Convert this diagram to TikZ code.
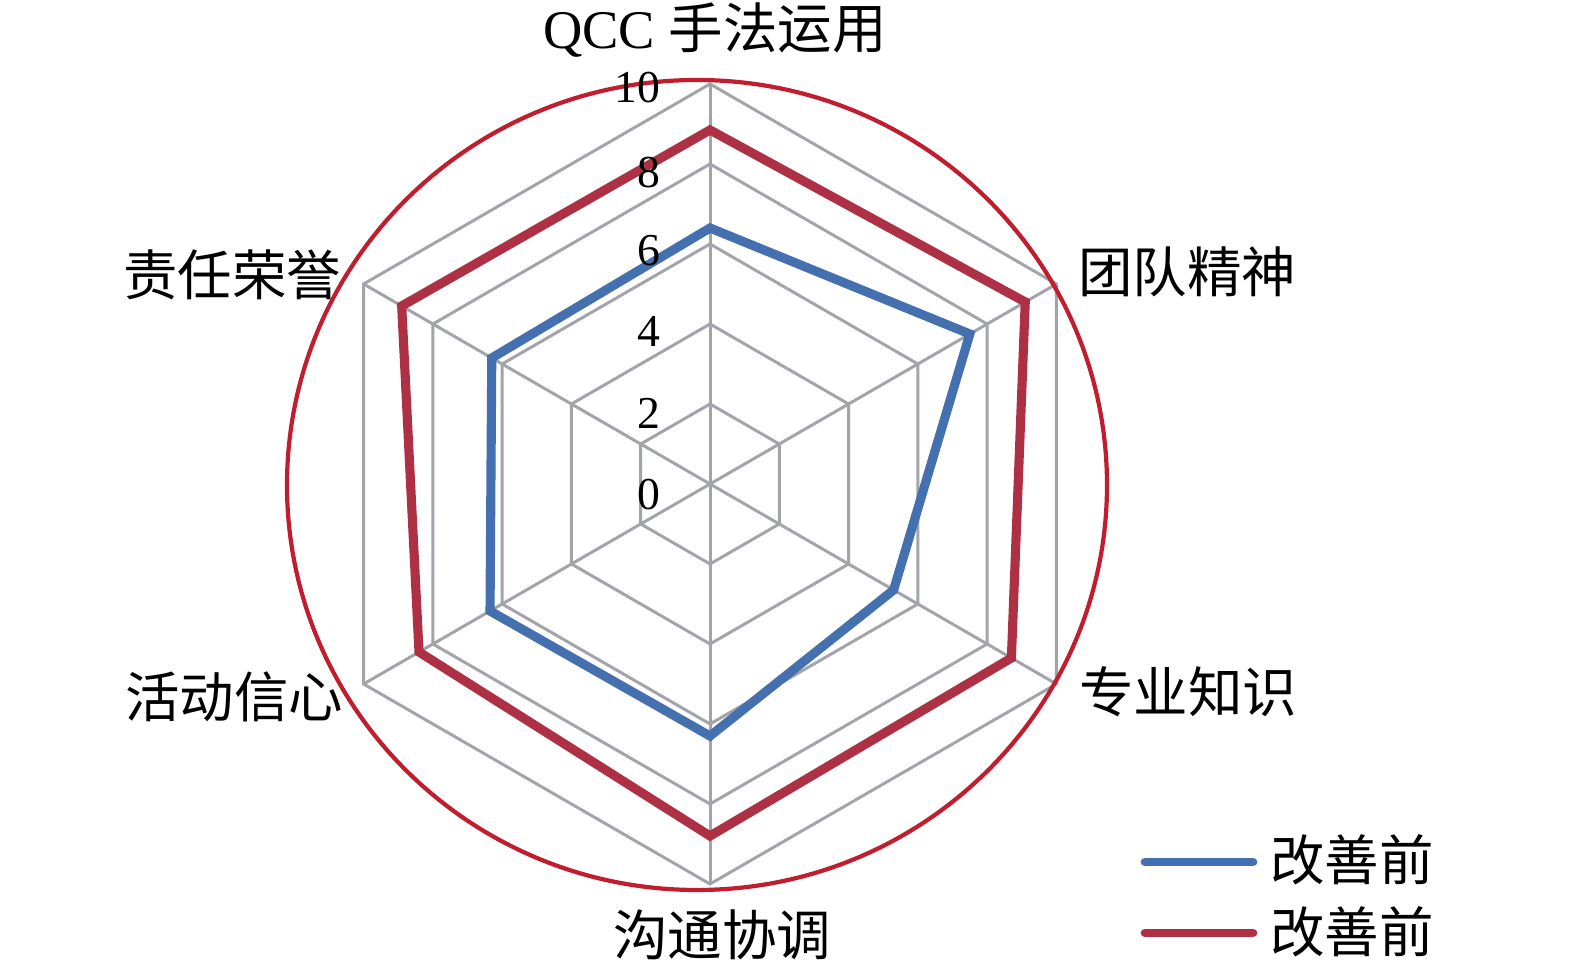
\documentclass[tikz,border=0pt]{standalone}
\usepackage{fontspec}
\setmainfont{Liberation Serif}
\newfontfamily\cjk{Noto Sans CJK SC}
\definecolor{gridgray}{HTML}{A3A4AA}
\definecolor{serblue}{HTML}{4570B0}
\definecolor{serred}{HTML}{AE3045}
\definecolor{circred}{HTML}{C01E2E}
\begin{document}
\begin{tikzpicture}[x=0.02cm,y=0.02cm,
  gridline/.style={draw=gridgray,line width=1.7pt},
  blueser/.style={draw=serblue,line width=5.2pt,line join=miter},
  redser/.style={draw=serred,line width=5.2pt,line join=miter},
  ringline/.style={draw=circred,line width=2.4pt},
  axlabel/.style={inner sep=0pt,font=\fontsize{31}{37}\selectfont\cjk},
  ticklabel/.style={inner sep=0pt,anchor=east,font=\fontsize{26}{30}\selectfont},
  legline/.style={line width=5pt,line cap=round}]
\useasboundingbox (0,0) rectangle (1575,970);
\begin{scope}[shift={(710,486)}]
  \foreach \r in {80,160,240,320,400}
    \draw[gridline] (90:\r) -- (30:\r) -- (-30:\r) -- (-90:\r) -- (210:\r) -- (150:\r) -- cycle;
  \foreach \a in {90,30,-30,-90,210,150}
    \draw[gridline] (0,0) -- (\a:400);
  \draw[blueser] (90:256) -- (30:300) -- (-30:212) -- (-90:252) -- (210:254) -- (150:252) -- cycle;
  \draw[redser] (90:354) -- (30:364) -- (-30:348) -- (-90:352) -- (210:336) -- (150:356) -- cycle;
\end{scope}
\draw[ringline] (697,485) ellipse [x radius=410, y radius=405];
% tick labels
\node[ticklabel] (t10) at (661,882) {10};
\node[ticklabel] (t8) at (661,797) {8};
\node[ticklabel] (t6) at (661,719) {6};
\node[ticklabel] (t4) at (661,639) {4};
\node[ticklabel] (t2) at (661,557) {2};
\node[ticklabel] (t0) at (661,475) {0};
% axis labels
\node[axlabel] (qcc) at (715,940) {\rmfamily QCC \cjk 手法运用};
\node[axlabel] (team) at (1187,698) {团队精神};
\node[axlabel] (prof) at (1188,278) {专业知识};
\node[axlabel] (comm) at (722,35) {沟通协调};
\node[axlabel] (act) at (234,273) {活动信心};
\node[axlabel] (resp) at (232,695) {责任荣誉};
% legend
\coordinate (lb1) at (1145,108);
\coordinate (lb2) at (1253,108);
\coordinate (lr1) at (1145,37);
\coordinate (lr2) at (1253,37);
\draw[legline,serblue] (lb1) -- (lb2);
\draw[legline,serred] (lr1) -- (lr2);
\node[axlabel] (leg1) at (1352,110) {改善前};
\node[axlabel] (leg2) at (1352,38) {改善前};
\end{tikzpicture}
\end{document}
